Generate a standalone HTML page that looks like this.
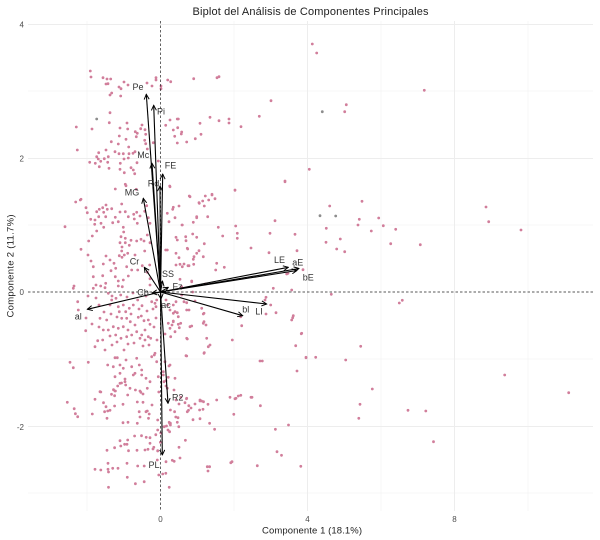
<!DOCTYPE html>
<html><head><meta charset="utf-8"><style>
html,body{margin:0;padding:0;background:#fff;}
svg{display:block;font-family:"Liberation Sans",sans-serif;}
</style></head><body>
<svg width="600" height="540" viewBox="0 0 600 540" xmlns="http://www.w3.org/2000/svg">
<defs>
<marker id="ah" viewBox="0 0 10 10" refX="9" refY="5" markerWidth="6" markerHeight="6" orient="auto" markerUnits="userSpaceOnUse">
<path d="M0.5,0.8 L9,5 L0.5,9.2" fill="none" stroke="#000" stroke-width="1.6"/>
</marker>
</defs>
<rect width="600" height="540" fill="#fff"/>
<g stroke="#f4f4f4" stroke-width="0.7">
<line x1="28" x2="593" y1="91" y2="91"/><line x1="28" x2="593" y1="225" y2="225"/>
<line x1="28" x2="593" y1="359" y2="359"/><line x1="28" x2="593" y1="493" y2="493"/>
<line x1="87" x2="87" y1="21" y2="511"/><line x1="234" x2="234" y1="21" y2="511"/>
<line x1="381" x2="381" y1="21" y2="511"/><line x1="528" x2="528" y1="21" y2="511"/>
</g>
<g stroke="#ededed" stroke-width="1">
<line x1="28" x2="593" y1="24.5" y2="24.5"/><line x1="28" x2="593" y1="158.5" y2="158.5"/>
<line x1="28" x2="593" y1="426.5" y2="426.5"/>
<line x1="307.5" x2="307.5" y1="21" y2="511"/><line x1="454.5" x2="454.5" y1="21" y2="511"/>
</g>
<path fill="none" stroke="#cc7090" stroke-opacity="0.9" stroke-width="2.8" stroke-linecap="round" d="
M90.3 71h0M91 77h0M103 77.7h0M107 79h0M110.7 79h0M108 83.7h0M106 84h0M119 87h0M124 82h0M128 85h0M121 88.7h0M111.7 93h0M110 95h0M120.7 96h0M147 83h0M152 86h0M156 77.7h0M156 80h0M161 86h0M161 88.7h0M167.7 80h0M170.7 81.7h0M193.7 78.7h0M217 77.7h0M219 76.7h0M271 100.7h0
M76.3 127h0M92 129h0M110 112.7h0M109.3 122.7h0M120 128h0M127 123h0M127.7 129h0M119.3 136h0M126 139.3h0M111.3 141.7h0M118.3 144h0M128.7 147h0M135.3 131.7h0M137.3 133.3h0M136.3 136.7h0M140.7 128.7h0M145 129.7h0M145.7 134.3h0M142 125h0M144.7 140.3h0M145.7 143.7h0M153.3 142.7h0M147.3 149h0M135 151.7h0M133 153.3h0M129 153.7h0M123.3 153.7h0M119 153.7h0M115 151.7h0M106 150h0M98.7 152.7h0M96.7 156.7h0M98.3 159h0M100.7 161.3h0M89.7 162.3h0M95.3 163.3h0M104.3 158.7h0M108.3 156.7h0M107.7 162.3h0M109 168.3h0M99.3 166.7h0M77.3 150h0M120.3 163.3h0M124 159h0M128.3 158h0M137 162.7h0M131 167.7h0M133.3 170h0M134.7 173.7h0M120 169.3h0M124.3 172.7h0M125.3 184.3h0M115.3 189h0M158.3 161h0M170 120h0M177.3 119h0M178.3 119h0M165.7 125.3h0M173.3 130h0M177.7 127.7h0M181.7 132h0M181.3 134h0M174.7 136.3h0M177.3 143h0M186.7 142h0M195.3 138.7h0M200 123.3h0M201 134.3h0M210 117.3h0M219 120.7h0M229 119h0M229 123h0M241 126.7h0M259.3 116.3h0M285 181.7h0M235 190.3h0M190 196.7h0M205.3 196h0M212 194.3h0M80.3 200h0
M312.3 44h0M316.7 53h0M424.3 90.3h0M344.7 111.7h0M346.3 104.7h0M309.3 169.3h0M329.7 206h0M362 201.3h0M359.3 219.3h0M378.7 218h0M486 207h0
M488.7 221.7h0M521 230h0M358 225h0M383.3 225.7h0M371.3 231h0M395.7 229.3h0M326.3 228.3h0M326 242.3h0M340.3 239h0M336.7 249h0M344.7 251.7h0M390.7 243.7h0M420.3 244.7h0M303 269.7h0M331.3 294.3h0M399.3 303h0M402.3 300.3h0M301.3 333.7h0M306 357.3h0M315.7 357.3h0M345.7 360h0M360.7 346.3h0M504.7 375h0M372.3 389h0M568.7 392.7h0
M360 404.3h0M408 410.3h0M425.8 411h0M358.8 418.3h0M288.5 425h0M275.4 429.3h0M433.5 441.7h0M277 451.7h0M281.5 455.3h0M300.8 466.3h0M257.3 465.7h0M230.8 462.7h0M232 461.7h0M207.3 466.7h0M209.6 466.7h0M208 471h0M240.8 395.3h0M252 397.3h0M260.4 405.7h0M233.8 414.3h0M235 398.7h0M214.6 429.3h0M209.6 423.3h0M200 418.7h0M193 419.7h0M203 409.3h0M208 404.3h0M203.5 401.7h0M199.6 410h0M195 404h0M191 408h0M179 404h0M185 402.7h0M188.5 410.3h0M185.4 440.3h0M179 447.3h0M180 458h0M174.2 461.3h0M172.3 460.3h0M170.4 425h0M170.4 423.3h0M168 430h0M166 461.7h0M165.8 473.3h0M169.2 487.3h0M162.7 474h0M158.8 475h0M157.3 460h0M157.7 451h0M153 449h0M148 449.3h0M145 450h0M137 450.3h0M128.5 450.7h0M120.8 446h0M127 444.3h0M124.6 444.3h0M120 440.7h0M114.6 447.7h0M107 450.3h0M95 469.3h0M100.8 470h0M108 469.3h0M112.7 468.3h0M118 468.3h0M108.5 472h0M108.5 487.3h0M127.3 477.3h0M135.4 483.7h0M144.2 481.7h0M137.7 466h0M144.2 466h0M127 463.3h0M108 463.3h0M95 399.3h0M100.8 392h0M92.3 414h0M77.7 416.7h0M75.4 413.7h0M74.2 408.7h0M67.3 402.3h0M103.5 402.7h0M106 406.7h0M107.7 411h0M110 410.3h0M104.6 411.7h0M114.6 406h0M114.6 395.7h0M111.5 394.3h0M115.4 391h0M117.7 386h0M113.5 389.7h0M121.5 383h0M125 381.7h0M123 404.3h0M127.7 395h0M137.3 402h0M143 402.3h0M135.4 390h0M140.8 392.3h0M143 394h0M139.2 411.7h0M147.3 411h0M149.2 414h0M146 411.7h0M152 405h0M140 417h0M148.5 418.3h0M137.3 423.3h0M157.7 420h0M123 422.7h0M128 422.3h0M107 418.3h0M166 386h0M166 380.7h0M158.8 392h0M174.6 411.7h0M175.8 417h0M178 417.7h0M169.2 422.3h0M180.8 397.3h0M186.5 398.7h0M187.3 411.7h0M200 401h0M201.5 401h0M188.8 405.7h0M176 400h0M170.4 410h0M157.7 430h0M160.8 433h0M155.8 434.7h0M150 437.7h0M146.2 437.3h0M141.5 435.7h0M134.6 436h0M127.7 440h0M150 443.3h0M153.8 447.3h0M157.7 450.7h0M160.4 442.3h0M164.2 426.7h0M166.5 426h0M169.6 423.3h0M169.6 431.7h0M178.8 426.7h0M177.3 422.3h0
M75.7 202h0M81 199.3h0M86 207.7h0M87.3 212.7h0M65 226.7h0M90.7 219.3h0M95 220h0M96.7 211.7h0M99.3 209.3h0M102.7 207.7h0M106 205h0M107.3 209.3h0M103.7 212.3h0M105.7 216.7h0M98.7 216.7h0M94.7 224.3h0M101 223.3h0M103.7 227.3h0M96.7 231h0M92.3 236h0M88.7 241h0M81 249.3h0M91 261h0M88 255h0M111.7 208.7h0M115.3 217.3h0M112.7 222.7h0M120 212h0M121.7 204h0M125.3 211.7h0M128.3 216.7h0M133.7 214.3h0M136.7 212.3h0M134.3 219h0M140 216h0M137.3 223.3h0M144.7 211.3h0M146.7 205.7h0M148.3 217.7h0M150 223.3h0M126 185.7h0M136.3 189.3h0M118.3 221.7h0M123.3 227.3h0M123.7 232h0M121 236.7h0M125.3 238.3h0M125.3 242.7h0M120 242.7h0M122 247h0M121.7 251h0M119.3 255.7h0M124.3 255h0M129.3 245.3h0M131 240.3h0M136.7 241h0M141 239.3h0M144 241h0M147.3 235h0M150 242.7h0M144.7 251h0M135 255h0M127.7 253.3h0M106 256h0M103.3 264h0M110 260h0M114 263.3h0M115.7 268.3h0M111 270.7h0M102.7 275.7h0M105.7 283.3h0M115.3 276.7h0M118.3 281h0M123.3 280h0M128.3 276h0M131.7 270h0M137.7 270h0M142.3 265.7h0M149.7 265h0M147.3 272.3h0M126.7 266.7h0M122 257.3h0M93.3 266.7h0M93.3 276.7h0M74 286h0M96 285h0M118.3 286h0M122.3 286.7h0M170 186.7h0M167.3 213.3h0M173.3 207.3h0M179 206h0M189.3 196h0M199.3 203.3h0M202.7 201h0M208.7 200h0M169 221.7h0M182 225h0M193.3 222.3h0M196.7 217.7h0M176 237.3h0M177.3 240h0M186 240.7h0M196.7 237.3h0M204.3 243.7h0M165.7 250h0M176 253.3h0M179 257.7h0M187.3 248.3h0M193.3 259.3h0M188 265.7h0M196.7 253.3h0M184 264h0M176 265h0M205.3 284h0M191.7 281.7h0M150 278.7h0M150 285h0
M73.3 288.3h0M78.3 310h0M77.7 301.7h0M85.7 330.7h0M95 346.7h0M97.7 340.7h0M100 318.3h0M93.3 288.3h0M100.7 286h0M105 287.7h0M108.3 293.3h0M111.7 300h0M110 305h0M116 298.3h0M120.7 295h0M118.3 306.7h0M123.3 305h0M119.3 311.7h0M125.7 311.7h0M129.3 308.3h0M133.3 305h0M137.7 300h0M142 305.7h0M121.7 318.3h0M126.7 318.3h0M130.3 321.7h0M138.3 317.3h0M141.3 316h0M144 320.7h0M148.3 320h0M150 324.3h0M135 325h0M123.3 326.7h0M118.3 328.3h0M113.3 326.7h0M108.3 330h0M106.7 320h0M103.3 330h0M115.7 335h0M121 338.3h0M126.7 336.7h0M131.7 335h0M136.7 331.7h0M141.7 335h0M145 330h0M148.3 336.7h0M140 338.3h0M145 340h0M150.7 338.3h0M102.7 340h0M154.3 355h0M115 357.7h0M117.3 357.7h0M126 360h0M136.7 358.3h0M107.7 365h0M113.3 366.7h0M120 365h0M123.3 368.3h0M131.7 366.7h0M139.3 365h0M141.7 370h0M133.3 375h0M135 373.3h0M141.7 375h0M120 373.3h0M115 376.7h0M125 379h0M120 383.3h0M115 391h0M125.7 385h0M130 388.3h0M140 391h0M147.3 388.3h0M150 381.7h0M146 378.3h0M70 362.3h0M73.3 367.7h0M88.3 362.3h0M100 391.7h0M173.3 305h0M175 311.7h0M173.3 321h0M178.3 324.3h0M179.3 327.7h0M170 328.3h0M168.3 323.3h0M186.7 310h0M190 326.7h0M186.7 338.3h0M186 355.7h0M170 365h0M163.3 375h0M164 381.7h0M167.3 388.3h0M195 301h0M204 313.3h0M206 325h0M204 321.7h0M206.7 338.3h0M204 353.3h0M208.3 346.7h0
M169.7 186h0M199 202.7h0M204.3 206h0M212 195h0M215 198.7h0M235 190h0M285 181h0M172.7 209.3h0M175 217.7h0M182.3 225h0M196.7 216.7h0M207.7 216.7h0M218.3 227.3h0M235.7 226h0M237.3 233.3h0M237.3 238.3h0M222.7 236h0M192.7 234h0M185.7 236.7h0M167.3 250h0M187.7 249h0M199 250.7h0M194 256.7h0M203.3 256.7h0M180 264.3h0M182.3 266.7h0M189 265.7h0M193.7 264.3h0M216.7 263.3h0M215.7 270h0M224.3 267.3h0M251 248h0M269 252.7h0M275 220.7h0M270 233.3h0M295 234.3h0M297 250.7h0M286.7 274h0M288 273.3h0M180 279.3h0M191.7 281h0M181.7 286.7h0M192.7 292h0M273.3 288.3h0M291.7 290h0M266 297.3h0M265 300h0M270.7 305h0M266 314h0M276 312.7h0M293.3 315.7h0M291.7 320h0M292.7 317.7h0M301.7 333.3h0M295.7 345.7h0M306 357.7h0M297 371h0M260 361h0M262.3 361h0M232.3 340h0M210 345h0M204.3 352.7h0M186.7 356h0M187.3 339h0M191.7 326h0M203.3 323.3h0M203.3 314h0M201.7 308.3h0M189 310h0M186.7 302.7h0M181.7 295h0M184 301.7h0M176 301.7h0M177.3 312.7h0M180.7 323.3h0M178.3 316.7h0M173.3 321.7h0M172 325h0M175 331.7h0M170.7 336.7h0M173.3 313.3h0M170 310h0M167.7 305h0M166 300h0M155 303.3h0M156 306.7h0M151.7 301.7h0M156.7 300h0M165 334h0M155 353.3h0M151.7 356.7h0M156.7 361.7h0M165 361.7h0M169 366h0M163.3 371.7h0M158.3 376.7h0M168.3 377.3h0M175 378.3h0M174 390h0M240.7 316.7h0M241.7 325.7h0M238.3 396h0M236 398.3h0M230 397.3h0M251 397.3h0M216.7 400h0M186.7 398.3h0M200 400h0
M112 296h0M127 297h0M133 293h0M146 296h0M139 309h0M131 314h0M117 317h0M111 314h0M104 312h0M99 305h0M96 298h0M88 296h0M86 318h0M92 324h0M99 327h0M110 336h0M117 342h0M128 344h0M134 343h0M143 346h0M149 345h0M157 340h0M154 327h0M156 318h0M153 309h0M147 311h0M128 330h0M112 345h0M105 350h0M124 350h0"/>
<path fill="none" stroke="#8d8d8d" stroke-width="2.8" stroke-linecap="round" d="M96.7 119h0M322.3 111.7h0M320 215.7h0M335.7 216h0"/>
<line x1="160.5" x2="160.5" y1="21" y2="511" stroke="#222" stroke-width="0.7" stroke-dasharray="2.5,2"/>
<line x1="28" x2="593" y1="292" y2="292" stroke="#222" stroke-width="0.7" stroke-dasharray="2.5,2"/>
<g stroke="#000" stroke-width="1.1" fill="none" marker-end="url(#ah)">
<line x1="160.5" y1="292" x2="146.3" y2="94.3"/>
<line x1="160.5" y1="292" x2="153.7" y2="105.3"/>
<line x1="160.5" y1="292" x2="152" y2="163.3"/>
<line x1="160.5" y1="292" x2="162.7" y2="174"/>
<line x1="160.5" y1="292" x2="160" y2="186"/>
<line x1="160.5" y1="292" x2="143.3" y2="198.3"/>
<line x1="160.5" y1="292" x2="144.3" y2="267.3"/>
<line x1="160.5" y1="292" x2="162.5" y2="281"/>
<line x1="160.5" y1="292" x2="168.3" y2="287.3"/>
<line x1="160.5" y1="292" x2="152" y2="293"/>
<line x1="160.5" y1="292" x2="161" y2="299"/>
<line x1="160.5" y1="292" x2="87.3" y2="309.3"/>
<line x1="160.5" y1="292" x2="242.7" y2="315.7"/>
<line x1="160.5" y1="292" x2="266.7" y2="304"/>
<line x1="160.5" y1="292" x2="288.3" y2="267.3"/>
<line x1="160.5" y1="292" x2="299" y2="268.5"/>
<line x1="160.5" y1="292" x2="297" y2="270.5"/>
<line x1="160.5" y1="292" x2="168" y2="403.3"/>
<line x1="160.5" y1="292" x2="162.3" y2="455"/>
</g>
<g font-size="9" fill="#333" text-anchor="middle" dominant-baseline="central">
<text x="138" y="87">Pe</text>
<text x="161" y="111.7">Pi</text>
<text x="143.3" y="155">Mc</text>
<text x="170.5" y="165.7">FE</text>
<text x="153.5" y="183.3">Rd</text>
<text x="132" y="192.7">MG</text>
<text x="134.5" y="261.5">Cr</text>
<text x="168" y="274">SS</text>
<text x="177.5" y="286.7">Fz</text>
<text x="143" y="292.7">Cb</text>
<text x="166" y="305">ac</text>
<text x="78.3" y="316.7">al</text>
<text x="245.7" y="309.3">bl</text>
<text x="259" y="311.5">LI</text>
<text x="279.5" y="260">LE</text>
<text x="297.7" y="262.7">aE</text>
<text x="308.3" y="277.3">bE</text>
<text x="177.7" y="397.7">R2</text>
<text x="154" y="465">PL</text>
</g>
<g font-size="8" fill="#4d4d4d">
<text x="24" y="27.5" text-anchor="end">4</text>
<text x="24" y="161.5" text-anchor="end">2</text>
<text x="24" y="295" text-anchor="end">0</text>
<text x="24" y="430" text-anchor="end">-2</text>
<text x="160.5" y="522" text-anchor="middle">0</text>
<text x="307.5" y="522" text-anchor="middle">4</text>
<text x="454.5" y="522" text-anchor="middle">8</text>
</g>
<text x="310.5" y="15" font-size="11" fill="#222" text-anchor="middle" textLength="236">Biplot del Análisis de Componentes Principales</text>
<text x="312" y="533.5" font-size="9.5" fill="#222" text-anchor="middle" textLength="100">Componente 1 (18.1%)</text>
<text transform="translate(13.5,266) rotate(-90)" font-size="9.5" fill="#222" text-anchor="middle" textLength="103">Componente 2 (11.7%)</text>
</svg>
</body></html>
